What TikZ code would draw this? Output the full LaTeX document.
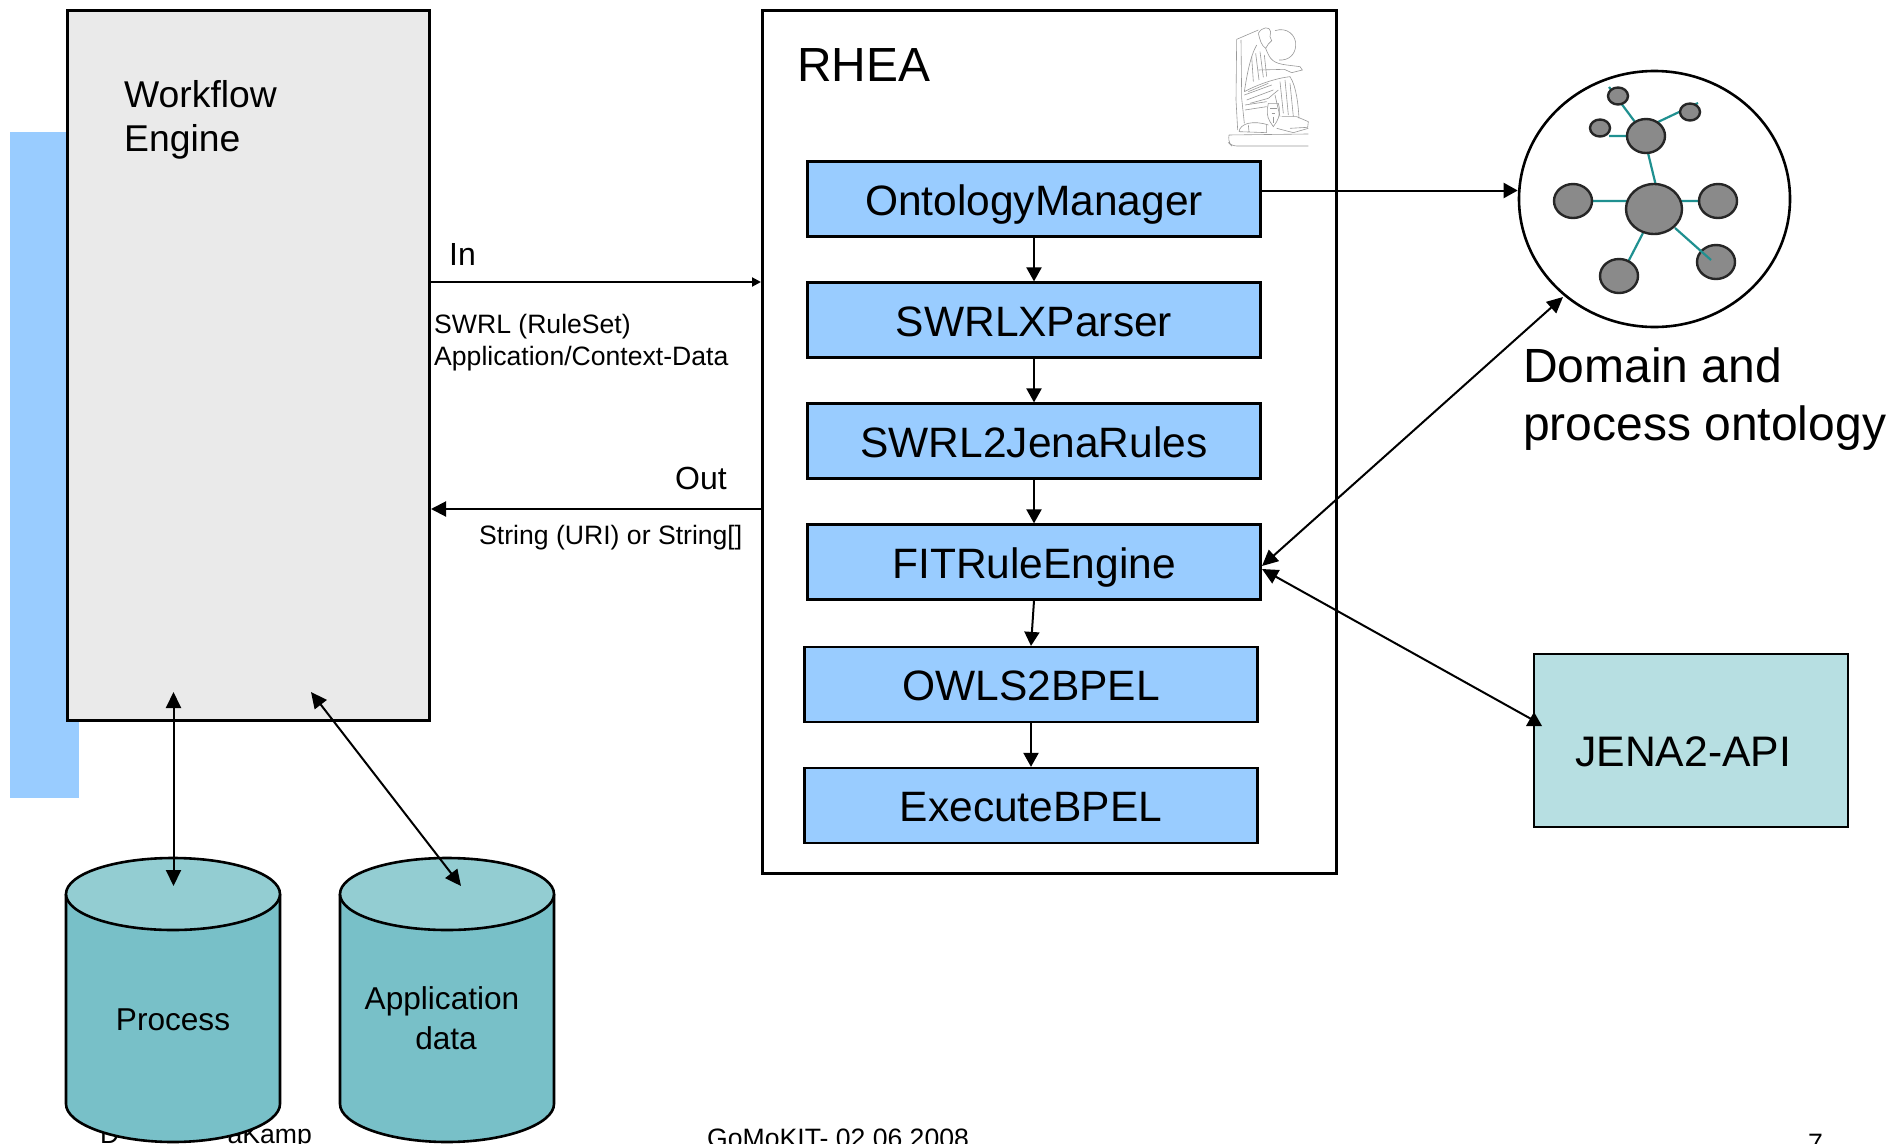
\documentclass[tikz,border=0pt]{standalone}
\usepackage{fontspec}
\setmainfont{Liberation Sans}
\usetikzlibrary{arrows.meta,shapes.geometric}
\definecolor{stripblue}{HTML}{99CCFF}
\definecolor{boxgray}{HTML}{EAEAEA}
\definecolor{cyanbox}{HTML}{B7DFE2}
\definecolor{cylbody}{HTML}{78C0C8}
\definecolor{cyltop}{HTML}{93CDD2}
\definecolor{nodegray}{HTML}{8A8A8A}
\definecolor{linkteal}{HTML}{1F9090}
\newcommand{\fs}[1]{\fontsize{#1}{#1}\selectfont}
\tikzset{
  x=1pt,y=-1pt,
  module/.style={draw=black,line width=2.2pt,fill=stripblue,minimum width=453pt,minimum height=75pt,inner sep=0pt,font=\fs{42.5},text height=35pt,text depth=3pt},
  panel/.style={draw=black,line width=3pt,inner sep=0pt,anchor=north west},
  conn/.style={draw=black,line width=2pt,-{Triangle[length=14pt,width=15pt]}},
  conn2/.style={draw=black,line width=2pt,{Triangle[length=16pt,width=15pt]}-{Triangle[length=16pt,width=15pt]}},
  bubble/.style={draw=black!85,line width=2.4pt,fill=nodegray,ellipse,inner sep=0pt},
  link/.style={draw=linkteal,line width=2.2pt},
  label/.style={inner sep=0pt,anchor=base west},
  sketch/.style={draw=black!40,line width=0.6pt},
}
\begin{document}
\begin{tikzpicture}
\useasboundingbox (0,0) rectangle (1903,1143);
\fill[white] (0,0) rectangle (1903,1143);
\fill[stripblue] (10,132) rectangle (79,798);
% workflow
\node[panel,fill=boxgray,minimum width=362pt,minimum height=710pt] (wf) at (66,9) {};
\node[label,font=\fs{37.3}] (wft) at (124,107) {Workflow};
\node[label,font=\fs{37.3}] (wft2) at (124,151) {Engine};
% RHEA
\node[panel,fill=white,minimum width=574pt,minimum height=863pt] (rhea) at (761,9) {};
\node[label,font=\fs{47.9}] (rt) at (797,81) {RHEA};
% statue
\begin{scope}[shift={(1225,20)},x=0.3333pt,y=-0.3333pt,sketch]
\draw (150,32) .. controls (185,20) and (215,45) .. (212,78) .. controls (210,105) and (190,122) .. (162,120);
\draw[rounded corners=5pt] (12,345) -- (10,368) -- (20,378) -- (250,378) (12,345) -- (250,342);
\draw (35,58) -- (100,30) (35,58) -- (33,240) (48,60) -- (50,235) (33,240) -- (38,330) (50,235) -- (58,310) (60,255) -- (125,245) (60,270) -- (125,260);
\draw (100,40) .. controls (110,20) and (135,18) .. (137,35) -- (135,50) -- (140,62) -- (130,72) -- (122,85);
\draw (100,40) .. controls (105,60) and (108,75) .. (122,85);
\draw (95,75) .. controls (75,110) and (65,170) .. (58,215) (122,85) .. controls (135,120) and (145,130) .. (185,135);
\draw (100,150) -- (180,148) (185,135) -- (225,140) -- (232,150) -- (200,158) -- (178,148);
\draw (58,215) .. controls (95,195) and (150,175) .. (195,170) .. controls (215,200) and (220,260) .. (222,295);
\draw (80,110) -- (85,185) (92,100) -- (102,180) (105,95) -- (115,172) (118,105) -- (125,170);
\draw (58,225) -- (140,195) (65,240) -- (145,210) (70,215) -- (130,190) (130,235) -- (160,210) (75,250) -- (130,235);
\draw (165,185) -- (175,280) (180,180) -- (190,285) (195,190) -- (205,290) (150,225) -- (165,290);
\draw (130,250) .. controls (125,270) and (125,290) .. (135,305) -- (145,320) -- (155,305) .. controls (165,290) and (165,265) .. (160,250) -- (130,250);
\draw (135,265) -- (155,265) (140,280) -- (150,280) (145,290) -- (145,310);
\draw (42,335) .. controls (45,310) and (85,300) .. (130,315) (42,335) -- (125,338) (70,315) -- (72,335) (125,315) -- (125,338);
\draw (170,290) -- (215,290) -- (250,305) -- (248,322) -- (195,325) (155,325) -- (205,338) -- (250,325);
\end{scope}
% modules
\node[module] (m1) at (1034,199) {OntologyManager};
\node[module] (m2) at (1034,320) {SWRLXParser};
\node[module] (m3) at (1034,441) {SWRL2JenaRules};
\node[module] (m4) at (1034,562) {FITRuleEngine};
\node[module] (m5) at (1031,684.5) {OWLS2BPEL};
\node[module] (m6) at (1031,805.5) {ExecuteBPEL};
\draw[conn] (m1.south) -- (m2.north);
\draw[conn] (m2.south) -- (m3.north);
\draw[conn] (m3.south) -- (m4.north);
\draw[conn] (m4.south) -- (m5.north);
\draw[conn] (m5.south) -- (m6.north);
% ontology
\node[draw=black,line width=2.6pt,fill=white,ellipse,minimum width=271pt,minimum height=256pt,inner sep=0pt] (onto) at (1654.5,199) {};
\coordinate (ca) at (1654,209); \coordinate (cb) at (1646,136);
\draw[link] (1590,201) -- (1632,201) (1676,201) -- (1700,201) (1648,153) -- (1656,186) (1643,233) -- (1628,262);
\draw[link] (1635,122) -- (1609,87) (1658,122) -- (1698,103) (1609,136) -- (1628,136);
\node[bubble,minimum width=38pt,minimum height=34pt] (n1) at (1573,201) {};
\node[bubble,minimum width=38pt,minimum height=34pt] (n2) at (1718,201) {};
\node[bubble,minimum width=38pt,minimum height=34pt] (n3) at (1619,276) {};
\node[bubble,minimum width=38pt,minimum height=34pt] (n4) at (1716,262) {};
\node[bubble,minimum width=56pt,minimum height=50pt] (n0) at (ca) {};
\node[bubble,minimum width=38pt,minimum height=34pt] (n5) at (cb) {};
\node[bubble,minimum width=20pt,minimum height=17pt] (n6) at (1618,96) {};
\node[bubble,minimum width=20pt,minimum height=17pt] (n7) at (1690,112) {};
\node[bubble,minimum width=20pt,minimum height=17pt] (n8) at (1600,128) {};
\draw[link] (1675,228) -- (1711,260);
\node[label,font=\fs{48}] (ot1) at (1523,382) {Domain and};
\node[label,font=\fs{48}] (ot2) at (1523,440) {process ontology};
% jena
\node[draw=black,line width=2.6pt,fill=cyanbox,minimum width=314pt,minimum height=173pt,inner sep=0pt] (jena) at (1691,740.5) {};
\node[label,font=\fs{42.7}] (jt) at (1575,766) {JENA2-API};
% in/out
\coordinate (in1) at (wf.east |- 0,282); \coordinate (in2) at (rhea.west |- 0,282);
\coordinate (ou1) at (rhea.west |- 0,509); \coordinate (ou2) at (wf.east |- 0,509);
\draw[line width=2pt,draw=black,-{Triangle[length=9pt,width=9pt]}] (in1) -- (in2);
\draw[line width=2pt,draw=black,-{Triangle[length=15pt,width=15pt]}] (ou1) -- (ou2);
\node[label,font=\fs{32}] (il) at (449,265) {In};
\node[label,font=\fs{26.6}] (i2) at (434,333) {SWRL (RuleSet)};
\node[label,font=\fs{26.6}] (i3) at (434,365) {Application/Context-Data};
\node[label,font=\fs{32}] (ol) at (675,489) {Out};
\node[label,font=\fs{26.6}] (o2) at (479,544) {String (URI) or String[]};
% ontology arrows
\coordinate (m1e) at (m1.east |- 0,190.5);
\draw[conn] (m1e) -- (onto.west |- 0,190.5);
\coordinate (on1) at (1563,297);
\coordinate (m4a) at (1262,566);
\coordinate (m4b) at (1262,569);
\coordinate (je) at (1533,720);
\draw[conn2] (m4a) -- (on1);
\draw[draw=black,line width=2pt,{Triangle[length=16pt,width=15pt]}-] (m4b) -- (je);
\fill[black] (1534,712) -- (1526,726) -- (1542,726) -- cycle;
% footer
\node[label,font=\fs{26.6}] (f0) at (100,1143) {D};
\node[inner sep=0pt,anchor=base east,font=\fs{26.6}] (f1) at (312,1143) {aKamp};
\node[label,font=\fs{26.6}] (f2) at (707,1147) {GoMoKIT- 02.06.2008};
\node[label,font=\fs{26.6}] (f3) at (1808,1152) {7};
% cylinders
\tikzset{
 cylshape/.pic={
  \draw[line width=2.6pt,fill=cylbody] (0,36) -- (0,246) .. controls (0,266) and (48,284) .. (107,284) .. controls (166,284) and (214,266) .. (214,246) -- (214,36);
  \draw[line width=2.6pt,fill=cyltop] (107,36) ellipse (107 and 36);
 }}
\pic at (66,858) {cylshape};
\pic at (340,858) {cylshape};
\coordinate (c1top) at (173.5,886); \coordinate (c2top) at (461,886);
\coordinate (wf1) at (173.5,692); \coordinate (wf2) at (311,692);
\draw[conn2] (wf1) -- (c1top);
\draw[conn2] (wf2) -- (c2top);
\node[font=\fs{31.6},inner sep=0pt] (p) at (173,1020) {Process};
\node[font=\fs{31.6},inner sep=0pt] (a1) at (442,1001) {Application};
\node[font=\fs{31.6},inner sep=0pt] (a2) at (446,1038) {data};
\end{tikzpicture}
\end{document}
